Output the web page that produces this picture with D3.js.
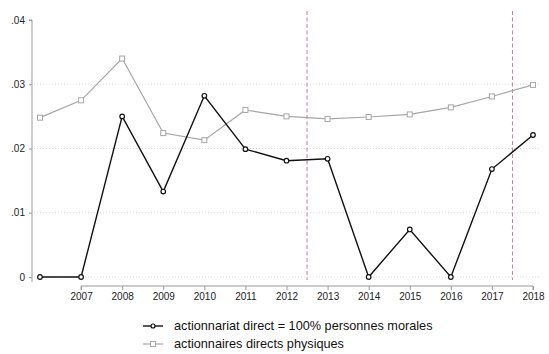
<!DOCTYPE html>
<html>
<head>
<meta charset="utf-8">
<script src="https://cdn.jsdelivr.net/npm/d3@7"></script>
<style>
  body{margin:0;background:#fff;}
  text{font-family:"Liberation Sans", Arial, sans-serif;}
</style>
</head>
<body>
<svg id="main"></svg>
<script>
//--------data----------
const years = [2006,2007,2008,2009,2010,2011,2012,2013,2014,2015,2016,2017,2018];
const moralValues = [0,0,0.0250,0.0133,0.0282,0.0199,0.0181,0.0184,0,0.0074,0,0.0168,0.0221];
const physValues = [0.0248,0.0275,0.0340,0.0224,0.0213,0.0260,0.0250,0.0246,0.0249,0.0253,0.0264,0.0281,0.0299];
const yTicks = [0,0.01,0.02,0.03,0.04];
const xTicks = [2007,2008,2009,2010,2011,2012,2013,2014,2015,2016,2017,2018];
const breakYears = [2012.5, 2017.5];
const legendLabels = ['actionnariat direct = 100% personnes morales','actionnaires directs physiques'];

//--------code----------
let width = 549, height = 354;
let svg = d3.select('#main')
.attr('width', width)
.attr('height', height);

let sx = d3.scaleLinear().domain([2006, 2018]).range([40, 533]);
let sy = d3.scaleLinear().domain([0, 0.04]).range([277, 20]);

//gridlines
svg.selectAll('.grid')
.data(yTicks.filter(d=>d<0.04))
.join('line')
.attr('class','grid')
.attr('x1', 34).attr('x2', 541)
.attr('y1', d=>sy(d)).attr('y2', d=>sy(d))
.attr('stroke', '#d9d9d9')
.attr('stroke-width', 1)
.attr('stroke-dasharray', '1,2');

//y axis
let ay = d3.axisLeft(sy)
.tickValues(yTicks)
.tickSize(3)
.tickPadding(4)
.tickFormat(d=>d===0 ? '0' : d3.format('.2f')(d).replace(/^0/, ''));
let gy = svg.append('g')
.attr('transform', 'translate(32,0)')
.call(ay);
gy.select('.domain').attr('d', `M-3,${sy(0.04)}H0V${sy(0)+5}`);

//x axis
let ax = d3.axisBottom(sx)
.tickValues(xTicks)
.tickSize(4)
.tickPadding(3)
.tickFormat(d3.format('d'));
let gx = svg.append('g')
.attr('transform', 'translate(0,286)')
.call(ax);
gx.select('.domain').attr('d', `M${sx(2007)},4V0H${sx(2018)}V4`);

for(let g of [gx, gy]){
  g.select('.domain').attr('stroke', '#999').attr('fill','none');
  g.selectAll('.tick line').attr('stroke', '#999');
  g.selectAll('.tick text').attr('fill', '#222').style('font-size', '10px')
  .style('font-family', '"Liberation Sans", Arial, sans-serif');
}

//period breaks
svg.selectAll('.brk')
.data(breakYears)
.join('line')
.attr('class','brk')
.attr('x1', d=>sx(d)).attr('x2', d=>sx(d))
.attr('y1', 11).attr('y2', 280)
.attr('stroke', '#c87ba4')
.attr('stroke-width', 1)
.attr('stroke-dasharray', '4,2.5');

let line = d3.line().x((d,i)=>sx(years[i])).y(d=>sy(d));

//physical shareholders (gray, squares)
svg.append('path')
.datum(physValues)
.attr('d', line)
.attr('fill','none')
.attr('stroke','#a6a6a6')
.attr('stroke-width', 1.2);
svg.selectAll('.sq')
.data(physValues)
.join('rect')
.attr('class','sq')
.attr('x', (d,i)=>sx(years[i])-2.5)
.attr('y', d=>sy(d)-2.5)
.attr('width', 5).attr('height', 5)
.attr('fill','#fff')
.attr('stroke','#a6a6a6')
.attr('stroke-width', 1);

//legal persons (black, circles)
svg.append('path')
.datum(moralValues)
.attr('d', line)
.attr('fill','none')
.attr('stroke','#111')
.attr('stroke-width', 1.4);
svg.selectAll('.dot')
.data(moralValues)
.join('circle')
.attr('class','dot')
.attr('cx', (d,i)=>sx(years[i]))
.attr('cy', d=>sy(d))
.attr('r', 2.3)
.attr('fill','#fff')
.attr('stroke','#111')
.attr('stroke-width', 1.2);

//legend
let legend = svg.append('g');
legendLabels.forEach((lab,i)=>{
  let y = 326 + i*18;
  let color = i===0 ? '#111' : '#a6a6a6';
  legend.append('line')
  .attr('x1', 143).attr('x2', 163)
  .attr('y1', y).attr('y2', y)
  .attr('stroke', color).attr('stroke-width', i===0 ? 1.4 : 1.2);
  if(i===0){
    legend.append('circle').attr('cx',153).attr('cy',y).attr('r',2)
    .attr('fill','#fff').attr('stroke',color).attr('stroke-width',1.2);
  }else{
    legend.append('rect').attr('x',150.5).attr('y',y-2.5).attr('width',5).attr('height',5)
    .attr('fill','#fff').attr('stroke',color).attr('stroke-width',1);
  }
  legend.append('text')
  .attr('x', 174).attr('y', y)
  .attr('dy', '0.35em')
  .style('font-size', '12.7px')
  .attr('fill', '#111')
  .text(lab);
});
</script>
</body>
</html>
